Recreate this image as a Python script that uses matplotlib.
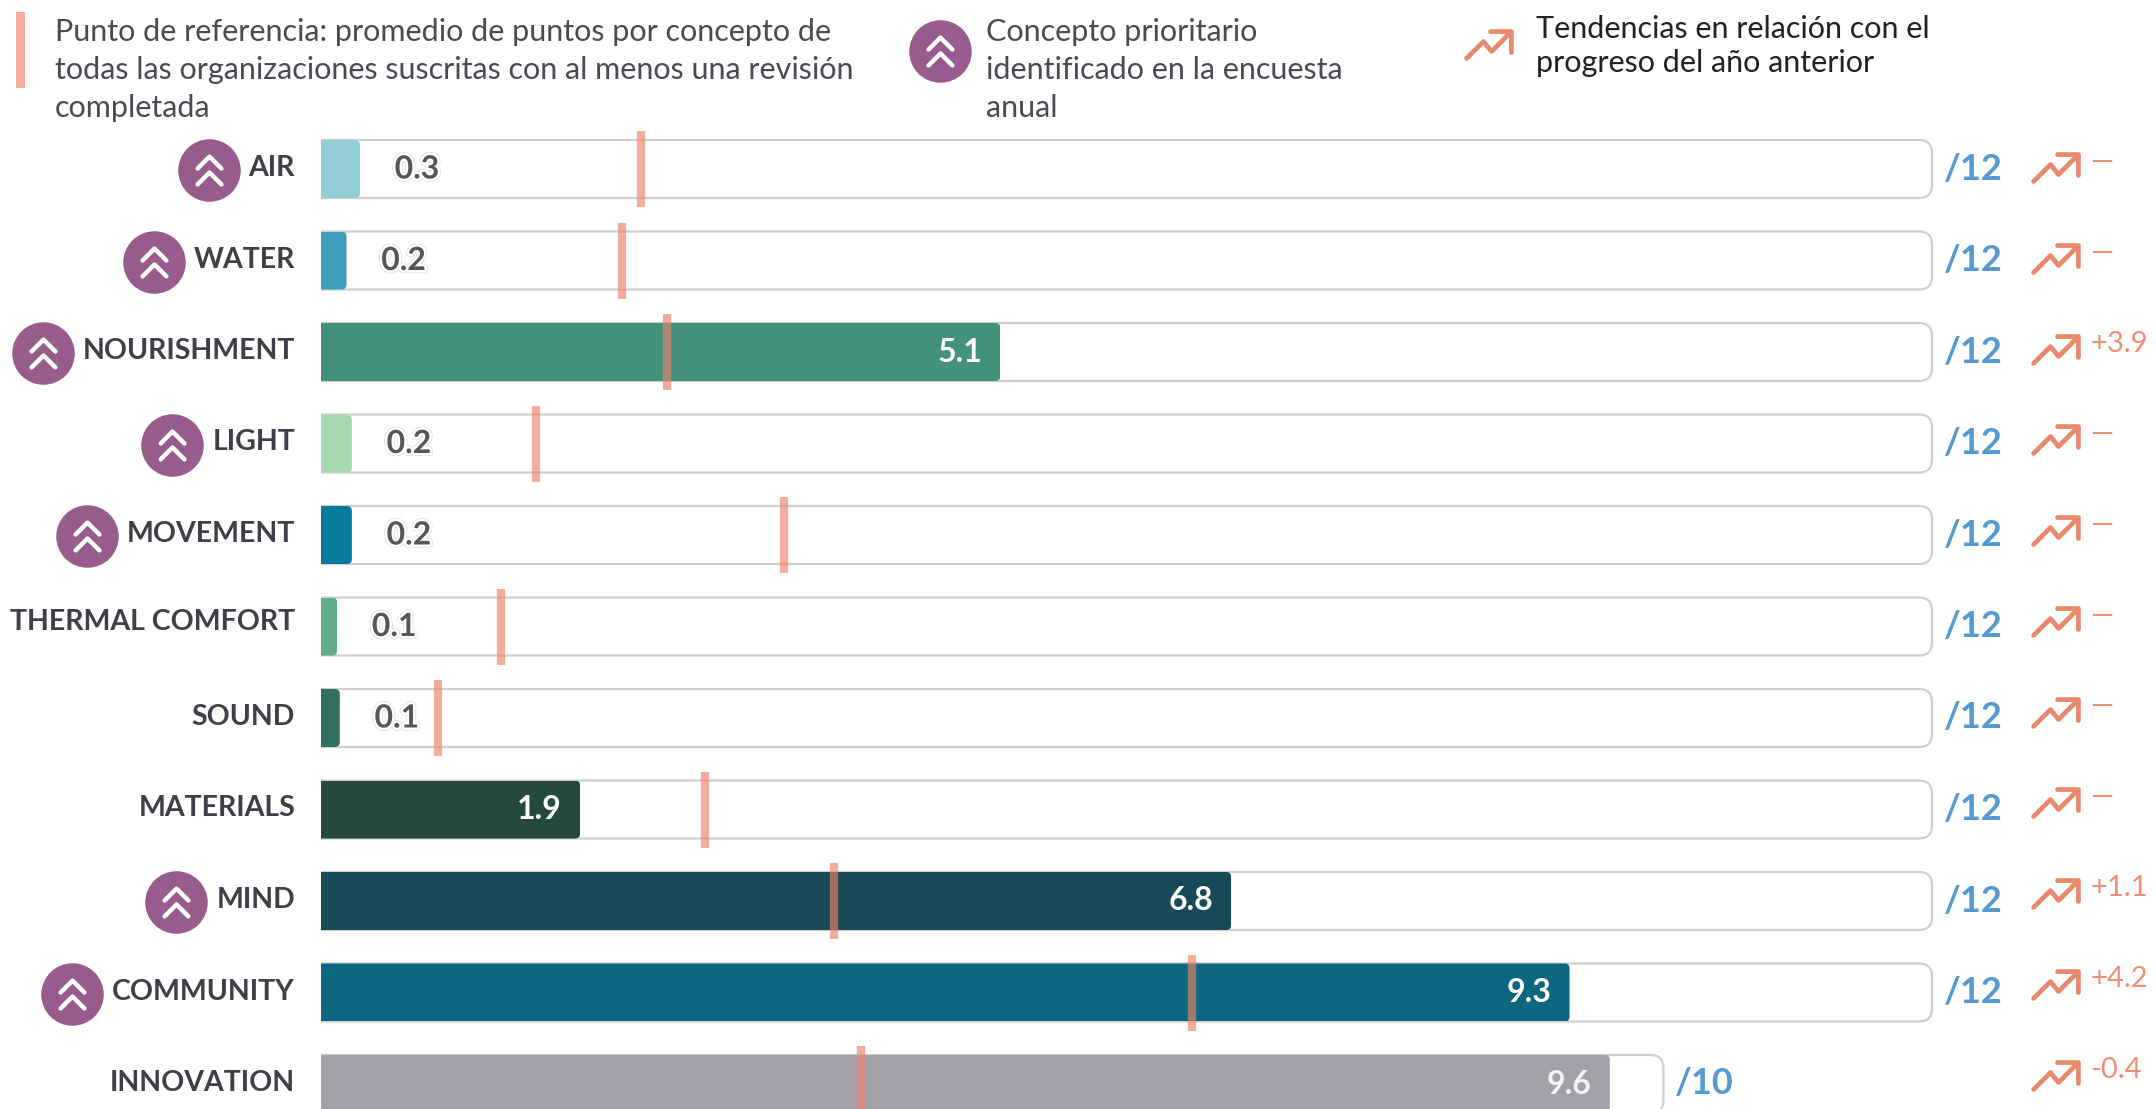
import matplotlib
matplotlib.use("Agg")
import matplotlib.pyplot as plt
from matplotlib.patches import FancyBboxPatch, Rectangle
from matplotlib.path import Path
from matplotlib.markers import MarkerStyle
from matplotlib.transforms import Affine2D
import matplotlib.patheffects as pe

W, H = 2156, 1109
concepts = ["AIR", "WATER", "NOURISHMENT", "LIGHT", "MOVEMENT", "THERMAL COMFORT",
            "SOUND", "MATERIALS", "MIND", "COMMUNITY", "INNOVATION"]
bar_values = [0.29, 0.19, 5.06, 0.23, 0.23, 0.12, 0.14, 1.93, 6.78, 9.3, 9.6]
value_labels = ["0.3", "0.2", "5.1", "0.2", "0.2", "0.1", "0.1", "1.9", "6.8", "9.3", "9.6"]
max_points = [12, 12, 12, 12, 12, 12, 12, 12, 12, 12, 10]
benchmarks = [2.38, 2.24, 2.58, 1.60, 3.45, 1.34, 0.87, 2.86, 3.82, 6.49, 4.02]
trend_labels = ["—", "—", "+3.9", "—", "—", "—", "—", "—", "+1.1", "+4.2", "-0.4"]
priority = ["AIR", "WATER", "NOURISHMENT", "LIGHT", "MOVEMENT", "MIND", "COMMUNITY"]
colors = ["#92ccd4", "#3c9eb9", "#43917a", "#a9d8ae", "#087a9c", "#60ae87",
          "#316f5f", "#26493d", "#174a56", "#0c6680", "#a2a0a8"]
legend_1 = ["Punto de referencia: promedio de puntos por concepto de",
            "todas las organizaciones suscritas con al menos una revisión",
            "completada"]
legend_2 = ["Concepto prioritario", "identificado en la encuesta", "anual"]
legend_3 = ["Tendencias en relación con el", "progreso del año anterior"]

FONT = "Lato"
DARK = "#3f3f4a"
UNIT_X, UNIT_Y = 134.25, 91.5   # pixels per point / per row
X0, Y0 = 321, 169

fig = plt.figure(figsize=(W / 100, H / 100), dpi=100, facecolor="white")
ax = fig.add_axes([0, 0, 1, 1])
ax.set_xlim(-X0 / UNIT_X, (W - X0) / UNIT_X)
ax.set_ylim((H - Y0) / UNIT_Y, -Y0 / UNIT_Y)
ax.axis("off")
px = Affine2D().scale(1, -1).translate(0, H)   # reference pixel coordinates
HEIGHT = 58 / UNIT_Y
ASPECT = UNIT_X / UNIT_Y


def rounded(x0, x1, row, radius_px, **kw):
    r = radius_px / UNIT_X
    return FancyBboxPatch((x0 + r, row - HEIGHT / 2 + r * ASPECT),
                          x1 - x0 - 2 * r, HEIGHT - 2 * r * ASPECT,
                          boxstyle=f"round,pad={r},rounding_size={r}",
                          mutation_aspect=ASPECT, **kw)


trend_icon = Path([(-23, -13), (-6, 4), (2, -6), (21, 13), (1, 14), (22, 14), (22, -7)],
                  [Path.MOVETO, Path.LINETO, Path.LINETO, Path.LINETO,
                   Path.MOVETO, Path.LINETO, Path.LINETO])
chevrons = Path([(-12, 2), (0, 14), (12, 2), (-12, -14), (0, -2), (12, -14)],
                [Path.MOVETO, Path.LINETO, Path.LINETO, Path.MOVETO, Path.LINETO, Path.LINETO])


def draw_trend(x, y):
    ax.plot([x], [y], transform=px, linestyle="none",
            marker=MarkerStyle(trend_icon, capstyle="round", joinstyle="miter"),
            markersize=33, markerfacecolor="none", markeredgecolor="#e8896b",
            markeredgewidth=3.4, zorder=5, clip_on=False)


def draw_badge(x, y):
    ax.plot([x], [y], transform=px, linestyle="none", marker="o", markersize=45,
            markerfacecolor="#975b8c", markeredgecolor="none", zorder=5)
    ax.plot([x], [y], transform=px, linestyle="none",
            marker=MarkerStyle(chevrons, capstyle="round", joinstyle="miter"),
            markersize=20, markerfacecolor="none", markeredgecolor="white",
            markeredgewidth=3.2, zorder=6)


rows = list(range(len(concepts)))
# tracks
for row, mx in zip(rows, max_points):
    ax.add_patch(rounded(-0.3, mx, row, 13, facecolor="white", edgecolor="#cfcfcf",
                         linewidth=1.6, zorder=1))
ax.add_patch(Rectangle((-2.39, -2), 2.39, 13, facecolor="white", edgecolor="none", zorder=1.5))

# bars, right corners rounded through a clip
bars = ax.barh(rows, bar_values, height=HEIGHT, color=colors, zorder=2)
for bar, value, row in zip(bars, bar_values, rows):
    clip = rounded(-0.3, value, row, 5, transform=ax.transData)
    bar.set_clip_path(clip)

# benchmarks
ax.vlines(benchmarks, [r - 38 / UNIT_Y for r in rows], [r + 38 / UNIT_Y for r in rows],
          color="#ee8168", alpha=0.65, linewidth=6, zorder=3)

renderer = fig.canvas.get_renderer()
for row, name, value, label, mx, trend in zip(rows, concepts, bar_values, value_labels,
                                              max_points, trend_labels):
    dy = -4 if name == "THERMAL COMFORT" else -1
    t = ax.annotate(name, (0, row), xytext=(-18.7, -dy * 0.72), textcoords="offset points",
                    ha="right", va="center", fontsize=20.5, fontweight="bold",
                    family=FONT, color=DARK, zorder=5)
    if name in priority:
        left = t.get_window_extent(renderer).x0
        draw_badge(left - 40, Y0 + UNIT_Y * row + 1)
    if value > 1:
        tc = "#f4f4f4" if name == "INNOVATION" else "white"
        ax.annotate(label, (value, row), xytext=(-13, 0), textcoords="offset points",
                    ha="right", va="center", fontsize=23, fontweight="bold",
                    family=FONT, color=tc, zorder=5)
    else:
        ax.annotate(label, (value, row), xytext=(25, 0), textcoords="offset points",
                    ha="left", va="center", fontsize=23, fontweight="bold",
                    family=FONT, color="#565656", zorder=5,
                    path_effects=[pe.Stroke(linewidth=4.5, foreground="#dddddd"),
                                  pe.Stroke(linewidth=3.5, foreground="white"), pe.Normal()])
    ax.annotate(f"/{mx}", (mx, row), xytext=(8.5, 0), textcoords="offset points",
                ha="left", va="center", fontsize=26, fontweight="bold",
                family=FONT, color="#5499d1", zorder=5)
    arrow_y = 168 + 90.75 * row
    draw_trend(2056, arrow_y)
    ax.text(2090, arrow_y - 6, trend, transform=px, ha="left", va="center", fontsize=21,
            family=FONT, color="#ee8f75", zorder=5, clip_on=False)

# legend
ax.add_patch(Rectangle((16, 12), 9, 76, transform=px, facecolor="#f4ad9d", edgecolor="none", zorder=5))
for i, line in enumerate(legend_1):
    ax.text(55, 32 + 38 * i, line, transform=px, ha="left", va="center", fontsize=22,
            family=FONT, color="#4a4a55", zorder=5)
draw_badge(940, 51)
for i, line in enumerate(legend_2):
    ax.text(986, 32 + 38 * i, line, transform=px, ha="left", va="center", fontsize=22,
            family=FONT, color="#4a4a55", zorder=5)
draw_trend(1489, 45)
for i, line in enumerate(legend_3):
    ax.text(1536, 29 + 34 * i, line, transform=px, ha="left", va="center", fontsize=22,
            family=FONT, color="#222222", zorder=5)

fig.savefig("out.png", dpi=100, facecolor="white")
